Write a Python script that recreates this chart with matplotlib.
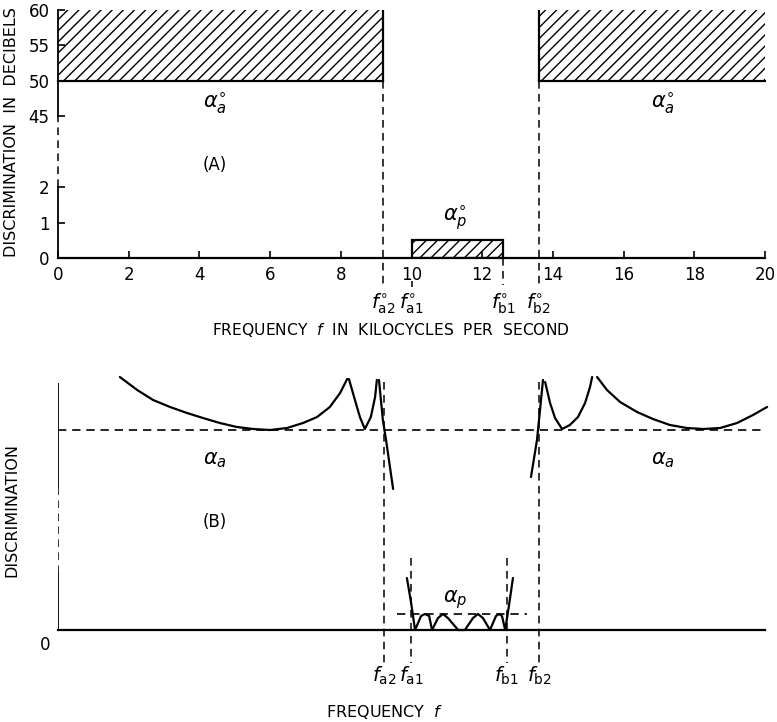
import matplotlib.pyplot as plt
from matplotlib.patches import Rectangle

# ---- (A) idealized requirements (kc, dB) ----
f_a2_0, f_a1_0, f_b1_0, f_b2_0 = 9.2, 10.0, 12.6, 13.6
stop_lo, stop_hi = 50, 60          # stop band discrimination
pass_hi = 0.5                      # pass band tolerance
x_ticks = [0, 2, 4, 6, 8, 10, 12, 14, 16, 18, 20]
y_ticks_db = [0, 1, 2, 45, 50, 55, 60]

# ---- (B) realized discrimination (relative units) ----
f_a2, f_a1, f_b1, f_b2 = 9.22, 9.99, 12.70, 13.61
alpha_a = 1.0
alpha_p = 0.08

arc1_f = [1.75, 2.24, 2.69, 3.17, 3.65, 4.10, 4.58, 5.06, 5.52, 6.00, 6.48, 6.93,
          7.33, 7.69, 7.98, 8.18]
arc1_a = [1.265, 1.20, 1.15, 1.115, 1.085, 1.06, 1.035, 1.015, 1.005, 1.0, 1.01,
          1.035, 1.065, 1.115, 1.185, 1.255]
arc2_f = [8.23, 8.40, 8.54, 8.68, 8.85, 8.97, 9.02]
arc2_a = [1.255, 1.15, 1.065, 1.005, 1.065, 1.165, 1.25]
fall_f = [9.08, 9.19, 9.28, 9.48]
fall_a = [1.25, 1.05, 0.95, 0.705]
rise_f = [13.38, 13.55, 13.72]
rise_a = [0.765, 0.95, 1.25]
arc3_f = [13.78, 13.92, 14.06, 14.26, 14.48, 14.71, 14.91, 15.05, 15.11]
arc3_a = [1.24, 1.135, 1.06, 1.005, 1.025, 1.065, 1.135, 1.215, 1.265]
arc4_f = [15.25, 15.53, 15.90, 16.38, 16.83, 17.31, 17.79, 18.25, 18.73, 19.21,
          19.66, 20.06]
arc4_a = [1.265, 1.20, 1.14, 1.09, 1.055, 1.025, 1.01, 1.005, 1.01, 1.035, 1.075,
          1.115]
pass_f = [9.87, 9.99, 10.10, 10.27, 10.38, 10.50, 10.58, 10.75, 10.89, 11.03, 11.32,
          11.51, 11.74, 11.88, 12.02, 12.22, 12.39, 12.48, 12.56, 12.65, 12.76, 12.87]
pass_a = [0.26, 0.135, 0.0, 0.07, 0.08, 0.07, 0.0, 0.06, 0.08, 0.06, 0.0, 0.0, 0.06,
          0.08, 0.06, 0.0, 0.07, 0.08, 0.07, 0.0, 0.125, 0.26]


def brk(v):
    # broken dB axis: 0-2 linear, then 45-60 compressed
    return v if v <= 2 else 4 + (v - 45) / 5.0


W, H = 777, 722
fig = plt.figure(figsize=(W / 100, H / 100), dpi=100)
dash = (0, (5, 3.5))
lw = 1.6

# ================= panel A =================
ax = fig.add_axes([58 / W, 1 - 258 / H, 707 / W, 248 / H])
ax.set_xlim(0, 20)
ax.set_ylim(0, 7)
for s in ax.spines.values():
    s.set_visible(False)

ax.plot([0, 20], [0, 0], color='k', lw=lw, clip_on=False)
ax.plot([0, 0], [0, 2], color='k', lw=1.3, clip_on=False)
ax.plot([0, 0], [2, 4], color='k', lw=1.1, ls=dash, clip_on=False)
ax.plot([0, 0], [4, 7], color='k', lw=1.3, clip_on=False)

# stop bands
for x0, x1 in [(0, f_a2_0), (f_b2_0, 20)]:
    ax.add_patch(Rectangle((x0, brk(stop_lo)), x1 - x0, brk(stop_hi) - brk(stop_lo),
                           fill=False, hatch='///', edgecolor='k', lw=0))
    ax.plot([x0, x1], [brk(stop_lo)] * 2, color='k', lw=lw, clip_on=False)
ax.plot([f_a2_0] * 2, [brk(stop_lo), brk(stop_hi)], color='k', lw=lw)
ax.plot([f_b2_0] * 2, [brk(stop_lo), brk(stop_hi)], color='k', lw=lw)

# pass band
ax.add_patch(Rectangle((f_a1_0, 0), f_b1_0 - f_a1_0, pass_hi,
                       fill=False, hatch='///', edgecolor='k', lw=lw))

for f in [f_a2_0, f_b2_0]:
    ax.plot([f, f], [brk(stop_lo), -0.75], color='k', lw=1.1, ls=dash, clip_on=False)
ax.plot([f_b1_0] * 2, [0, -0.75], color='k', lw=1.1, ls=dash, clip_on=False)
ax.plot([f_a1_0] * 2, [-0.64, -0.82], color='k', lw=1.1, ls=dash, clip_on=False)

ax.set_xticks(x_ticks)
ax.set_yticks([brk(v) for v in y_ticks_db])
ax.set_yticklabels([str(v) for v in y_ticks_db])
ax.tick_params(direction='in', length=5, width=1.2, labelsize=12, pad=6)

ax.text(4.44, 4.38, r'$\alpha_a^{\circ}$', fontsize=15, ha='center', va='center')
ax.text(17.1, 4.38, r'$\alpha_a^{\circ}$', fontsize=15, ha='center', va='center')
ax.text(4.44, 2.63, '(A)', fontsize=12, ha='center', va='center')
ax.text(11.23, 1.13, r'$\alpha_p^{\circ}$', fontsize=15, ha='center', va='center')

for f, lab in [(f_a2_0, 'a2'), (f_a1_0, 'a1'), (f_b1_0, 'b1'), (f_b2_0, 'b2')]:
    ax.text(f, -1.3, r'$f^{\circ}_{\mathrm{%s}}$' % lab, fontsize=14,
            ha='center', va='center')

ax.text(9.4, -2.03, 'FREQUENCY  $f$  IN  KILOCYCLES  PER  SECOND', fontsize=11.2,
        ha='center', va='center')
fig.text(12 / W, 1 - 132 / H, 'DISCRIMINATION  IN  DECIBELS', fontsize=11.5,
         rotation=90, ha='center', va='center')

# ================= panel B =================
bx = fig.add_axes([58 / W, 1 - 630 / H, 707 / W, 247 / H])
bx.set_xlim(0, 20)
bx.set_ylim(0, 1.235)
bx.axis('off')

bx.plot([0, 20], [0, 0], color='k', lw=lw, clip_on=False)
bx.plot([0, 0], [0, 0.285], color='k', lw=1.3)
bx.plot([0, 0], [0.285, 0.715], color='k', lw=1.1, ls=dash)
bx.plot([0, 0], [0.715, 1.235], color='k', lw=1.3)

bx.plot([0, 20], [alpha_a, alpha_a], color='k', lw=1.2, ls=dash, clip_on=False)
bx.plot([9.59, 13.27], [alpha_p, alpha_p], color='k', lw=1.2, ls=dash)

for fx, ay in [(arc1_f, arc1_a), (arc2_f, arc2_a), (fall_f, fall_a), (rise_f, rise_a),
               (arc3_f, arc3_a), (arc4_f, arc4_a), (pass_f, pass_a)]:
    bx.plot(fx, ay, color='k', lw=lw, clip_on=False, solid_joinstyle='round',
            solid_capstyle='round')

for f in [f_a2, f_b2]:
    bx.plot([f, f], [1.24, -0.165], color='k', lw=1.1, ls=dash, clip_on=False)
for f in [f_a1, f_b1]:
    bx.plot([f, f], [0.36, -0.165], color='k', lw=1.1, ls=dash, clip_on=False)

bx.text(4.44, 0.85, r'$\alpha_a$', fontsize=15, ha='center', va='center')
bx.text(17.1, 0.85, r'$\alpha_a$', fontsize=15, ha='center', va='center')
bx.text(4.44, 0.54, '(B)', fontsize=12, ha='center', va='center')
bx.text(11.23, 0.15, r'$\alpha_p$', fontsize=15, ha='center', va='center')
bx.text(-0.37, -0.075, '0', fontsize=12, ha='center', va='center')

for f, lab in [(f_a2, 'a2'), (f_a1, 'a1'), (f_b1, 'b1'), (f_b2, 'b2')]:
    bx.text(f, -0.23, r'$f_{\mathrm{%s}}$' % lab, fontsize=14, ha='center', va='center')

bx.text(9.25, -0.41, 'FREQUENCY  $f$', fontsize=11.5, ha='center', va='center')
fig.text(12 / W, 1 - 510 / H, 'DISCRIMINATION', fontsize=11.5,
         rotation=90, ha='center', va='center')

fig.savefig('out.png', dpi=100)
